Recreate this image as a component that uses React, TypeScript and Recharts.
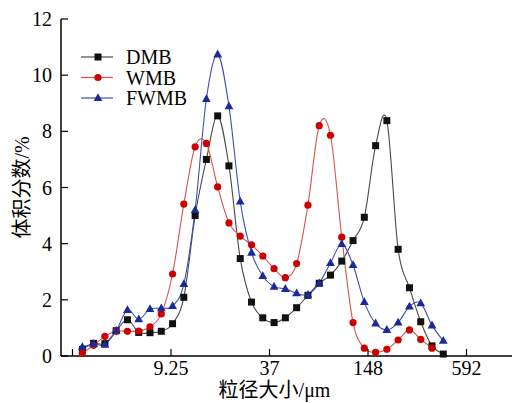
import { LineChart, Line, XAxis, YAxis } from "recharts";

// particle size (µm), log-spaced bins
const sizes = [
  2.655, 3.112, 3.647, 4.275, 5.011, 5.873, 6.883, 8.067, 9.455, 11.08, 12.99,
  15.22, 17.84, 20.91, 24.51, 28.73, 33.67, 39.46, 46.25, 54.21, 63.53, 74.46,
  87.28, 102.3, 119.9, 140.5, 164.7, 193.0, 226.2, 265.2, 310.8, 364.3, 426.9,
];

const dmb = [
  0.24, 0.45, 0.44, 0.9, 1.29, 0.84, 0.83, 0.88, 1.15, 2.09, 5.0, 7.0, 8.55,
  6.77, 3.47, 1.92, 1.36, 1.19, 1.36, 1.72, 2.16, 2.59, 2.88, 3.38, 4.11, 4.94,
  7.49, 8.38, 3.8, 2.43, 1.22, 0.36, 0.07,
];

const wmb = [
  0.1, 0.38, 0.7, 0.88, 0.88, 0.89, 1.04, 1.5, 2.92, 5.41, 7.45, 7.57, 6.02,
  4.74, 4.27, 3.96, 3.56, 3.11, 2.79, 3.29, 5.37, 8.2, 7.86, 4.23, 1.19, 0.28,
  0.13, 0.24, 0.57, 0.93, 0.59, 0.28, null,
];

const fwmb = [
  0.32, 0.43, 0.4, 0.9, 1.64, 1.31, 1.67, 1.7, 1.78, 2.56, 5.2, 9.15, 10.74,
  8.89, 5.5, 3.68, 2.85, 2.47, 2.39, 2.23, 2.18, 2.59, 3.31, 3.99, 3.24, 1.92,
  1.16, 0.93, 1.19, 1.76, 1.88, 1.09, 0.54,
];

const xTicks = [2.3125, 9.25, 37, 148, 592];
const xTickLabels = ["", "9.25", "37", "148", "592"];
const yTicks = [0, 2, 4, 6, 8, 10, 12];

const data = sizes.map((size, i) => ({
  size,
  DMB: dmb[i],
  WMB: wmb[i],
  FWMB: fwmb[i],
}));

const series = [
  { key: "DMB", line: "#4a4a4a", mark: "#111111", shape: "square" },
  { key: "WMB", line: "#d9534f", mark: "#cc0000", shape: "circle" },
  { key: "FWMB", line: "#3f4fb0", mark: "#1a2a99", shape: "triangle" },
];

const FONT = "'Liberation Serif', 'Times New Roman', 'Noto Sans CJK SC', serif";

// Catmull-Rom spline through the points (passes through every marker)
function catmullRom(context: any) {
  let pts: number[][] = [];
  return {
    areaStart() {},
    areaEnd() {},
    lineStart() {
      pts = [];
    },
    point(x: number, y: number) {
      pts.push([+x, +y]);
    },
    lineEnd() {
      const n = pts.length;
      if (!n) return;
      context.moveTo(pts[0][0], pts[0][1]);
      for (let i = 0; i < n - 1; i++) {
        const p0 = pts[Math.max(0, i - 1)];
        const p1 = pts[i];
        const p2 = pts[i + 1];
        const p3 = pts[Math.min(n - 1, i + 2)];
        context.bezierCurveTo(
          p1[0] + (p2[0] - p0[0]) / 6,
          p1[1] + (p2[1] - p0[1]) / 6,
          p2[0] - (p3[0] - p1[0]) / 6,
          p2[1] - (p3[1] - p1[1]) / 6,
          p2[0],
          p2[1]
        );
      }
    },
  };
}

function marker(shape: string, cx: number, cy: number, color: string, key?: any) {
  if (shape === "square")
    return <rect key={key} x={cx - 3.5} y={cy - 3.5} width={7} height={7} fill={color} />;
  if (shape === "circle") return <circle key={key} cx={cx} cy={cy} r={3.6} fill={color} />;
  return (
    <polygon
      key={key}
      points={`${cx},${cy - 4.8} ${cx - 4.4},${cy + 3} ${cx + 4.4},${cy + 3}`}
      fill={color}
    />
  );
}

const dotFor = (shape: string, color: string) => (p: any) => {
  if (p.cx == null || p.cy == null || p.value == null) return <g key={p.index} />;
  return marker(shape, p.cx, p.cy, color, p.index);
};

const XTick = (p: any) => {
  const i = xTicks.indexOf(p.payload.value);
  return (
    <g>
      <line x1={p.x} x2={p.x} y1={p.y} y2={p.y - 7} stroke="#000" strokeWidth={1.2} />
      <text x={p.x} y={p.y + 19} textAnchor="middle" fontSize={20} fontFamily={FONT} fill="#000">
        {xTickLabels[i] ?? ""}
      </text>
    </g>
  );
};

const YTick = (p: any) => (
  <g>
    <line x1={p.x} x2={p.x + 7} y1={p.y} y2={p.y} stroke="#000" strokeWidth={1.2} />
    <text x={p.x - 9} y={p.y + 7} textAnchor="end" fontSize={20} fontFamily={FONT} fill="#000">
      {p.payload.value}
    </text>
  </g>
);

const LegendBox = () => (
  <svg
    width={130}
    height={66}
    style={{ position: "absolute", top: 46, left: 80, display: "block" }}
  >
    {series.map((s, i) => {
      const cy = 11 + i * 20.5;
      return (
        <g key={s.key}>
          <line x1={1} x2={33} y1={cy} y2={cy} stroke={s.line} strokeWidth={1.2} />
          {marker(s.shape, 18, cy, s.mark)}
          <text x={46} y={cy + 7} fontSize={20} fontFamily={FONT} fill="#000">
            {s.key}
          </text>
        </g>
      );
    })}
  </svg>
);

export default function App() {
  return (
    <div style={{ position: "relative", width: 512, height: 403, background: "#fff" }}>
      <style>{`body{margin:0}`}</style>
      <LineChart
        width={512}
        height={403}
        data={data}
        margin={{ top: 19, right: 0, bottom: 0, left: 0 }}
        style={{ fontFamily: FONT }}
      >
        <XAxis
          dataKey="size"
          type="number"
          scale="log"
          domain={[1.967, 1123]}
          allowDataOverflow
          ticks={xTicks}
          interval={0}
          height={47}
          tickSize={0}
          tickMargin={0}
          tick={XTick}
          axisLine={{ stroke: "#000", strokeWidth: 1.5 }}
          label={{
            value: "粒径大小/μm",
            position: "insideBottom",
            offset: 6,
            dx: -12,
            fontSize: 20,
            fill: "#000",
            fontFamily: FONT,
          }}
        />
        <YAxis
          type="number"
          domain={[0, 12]}
          ticks={yTicks}
          interval={0}
          width={61}
          tickSize={0}
          tickMargin={0}
          tick={YTick}
          axisLine={{ stroke: "#000", strokeWidth: 1.5 }}
          label={{
            value: "体积分数/%",
            angle: -90,
            position: "insideLeft",
            offset: 22,
            fontSize: 20,
            fill: "#000",
            fontFamily: FONT,
            style: { textAnchor: "middle" },
          }}
        />
        {series.map((s) => (
          <Line
            key={s.key}
            dataKey={s.key}
            name={s.key}
            type={catmullRom as any}
            stroke={s.line}
            strokeWidth={1.1}
            dot={dotFor(s.shape, s.mark)}
            activeDot={false}
            isAnimationActive={false}
          />
        ))}
      </LineChart>
      <LegendBox />
    </div>
  );
}
